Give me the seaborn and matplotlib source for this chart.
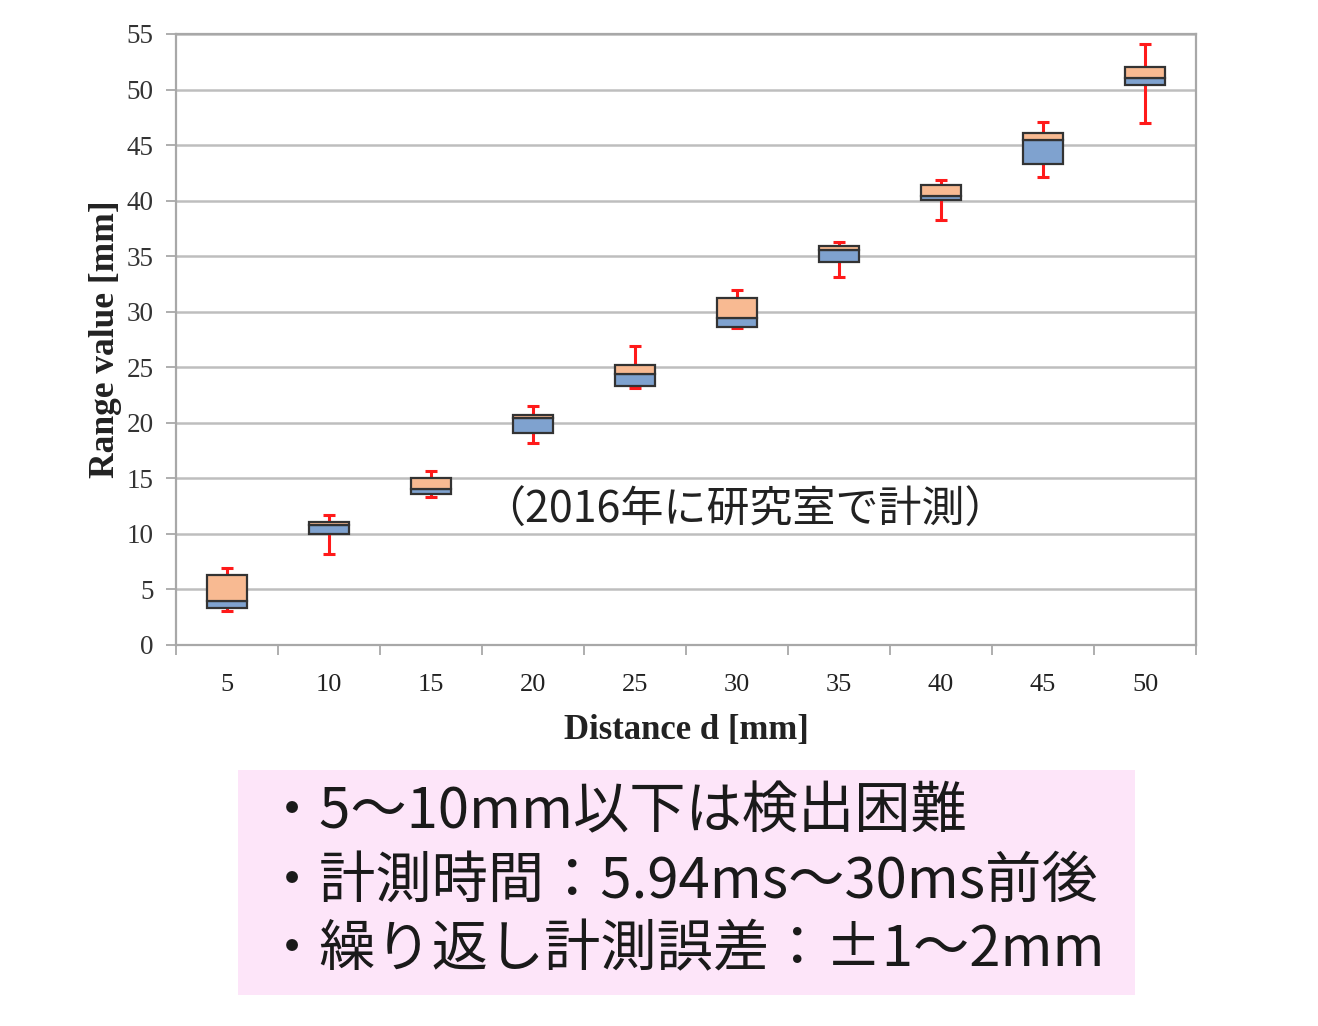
import matplotlib
matplotlib.use("Agg")
import matplotlib.pyplot as plt
import seaborn as sns
import numpy as np
import pandas as pd
from matplotlib.patches import Rectangle

# ---- data ----
distances = [5, 10, 15, 20, 25, 30, 35, 40, 45, 50]
whisker_min = [3.1, 8.2, 13.3, 18.2, 23.15, 28.5, 33.15, 38.3, 42.1, 47.0]
q1 = [3.3, 10.0, 13.6, 19.1, 23.35, 28.6, 34.5, 40.05, 43.3, 50.4]
median = [4.0, 10.8, 14.0, 20.4, 24.35, 29.4, 35.55, 40.45, 45.5, 51.05]
q3 = [6.3, 11.1, 15.0, 20.7, 25.2, 31.25, 35.95, 41.4, 46.1, 52.0]
whisker_max = [6.9, 11.7, 15.7, 21.5, 26.9, 32.0, 36.3, 41.85, 47.1, 54.1]
y_ticks = [0, 5, 10, 15, 20, 25, 30, 35, 40, 45, 50, 55]

x_label = "Distance d [mm]"
y_label = "Range value [mm]"
note_text = "（2016年に研究室で計測）"
bullets = ["・5～10mm以下は検出困難",
           "・計測時間：5.94ms～30ms前後",
           "・繰り返し計測誤差：±1～2mm"]

df = pd.DataFrame({
    "d": distances,
    "wmin": whisker_min, "q1": q1, "med": median, "q3": q3, "wmax": whisker_max,
})
df["lower"] = df["med"] - df["q1"]
df["upper"] = df["q3"] - df["med"]

sns.set_theme(style="white")
plt.rcParams["font.family"] = ["Liberation Serif", "DejaVu Serif"]

W, H = 1318, 1026
fig = plt.figure(figsize=(W / 100, H / 100), dpi=100)
ax = fig.add_axes([176 / W, 1 - 645 / H, (1196 - 176) / W, (645 - 34) / H])

blue = "#7FA2CF"
orange = "#F8BA92"
edge = "#333333"
red = "#FF1A1A"
grid_c = "#BEBEBE"

pos = np.arange(len(distances))

# whiskers (behind boxes)
ax.errorbar(pos, df["med"], yerr=[df["med"] - df["wmin"], df["wmax"] - df["med"]],
            fmt="none", ecolor=red, elinewidth=2.2, capsize=4.3, capthick=2.2, zorder=2)

# lower half (Q1 -> median) and upper half (median -> Q3)
sns.barplot(data=df, x="d", y="lower", bottom=df["q1"].values, color=blue,
            saturation=1, width=0.4, errorbar=None, edgecolor=edge, linewidth=1.6,
            ax=ax, zorder=3)
sns.barplot(data=df, x="d", y="upper", bottom=df["med"].values, color=orange,
            saturation=1, width=0.4, errorbar=None, edgecolor=edge, linewidth=1.6,
            ax=ax, zorder=3)

ax.set_xlim(-0.5, len(distances) - 0.5)
ax.set_ylim(0, 55)
ax.set_yticks(y_ticks)
ax.set_yticklabels([str(t) for t in y_ticks])
ax.set_xticks(pos)
ax.set_xticklabels([str(d) for d in distances])
ax.set_xticks(np.arange(-0.5, len(distances), 1.0), minor=True)

ax.yaxis.grid(True, color=grid_c, linewidth=1.8)
ax.xaxis.grid(False)
ax.set_axisbelow(True)
for sp in ax.spines.values():
    sp.set_color("#A8A8A8")
    sp.set_linewidth(1.6)
    sp.set_visible(True)

ax.tick_params(axis="y", which="major", direction="out", length=7, width=1.3,
               color="#A8A8A8", pad=9, labelsize=19.5, labelcolor="#333333", left=True)
ax.tick_params(axis="x", which="major", length=0, pad=21, labelsize=19,
               labelcolor="#222222")
ax.tick_params(axis="x", which="minor", direction="out", length=7, width=1.3,
               color="#A8A8A8", bottom=True)

ax.set_xlabel(x_label, fontsize=25, fontweight="bold", color="#222222", labelpad=13)
ax.set_ylabel(y_label, fontsize=25.5, fontweight="bold", color="#222222", labelpad=3)

ax.text(5.08, 12.1, note_text, fontsize=31, ha="center", va="center",
        family=["Noto Sans CJK JP", "DejaVu Sans"], color="#222222", zorder=5)

# pink summary box
fig.patches.append(Rectangle((238 / W, 1 - 995 / H), (1135 - 238) / W, (995 - 770) / H,
                             transform=fig.transFigure, facecolor="#FDE5F9",
                             edgecolor="none", zorder=0))
for i, line in enumerate(bullets):
    fig.text(264 / W, 1 - (813 + 69 * i) / H, line, fontsize=40.5, ha="left", va="center",
             family=["Noto Sans CJK JP", "DejaVu Sans"], color="#1A1A1A")

fig.savefig("out.png", dpi=100)
